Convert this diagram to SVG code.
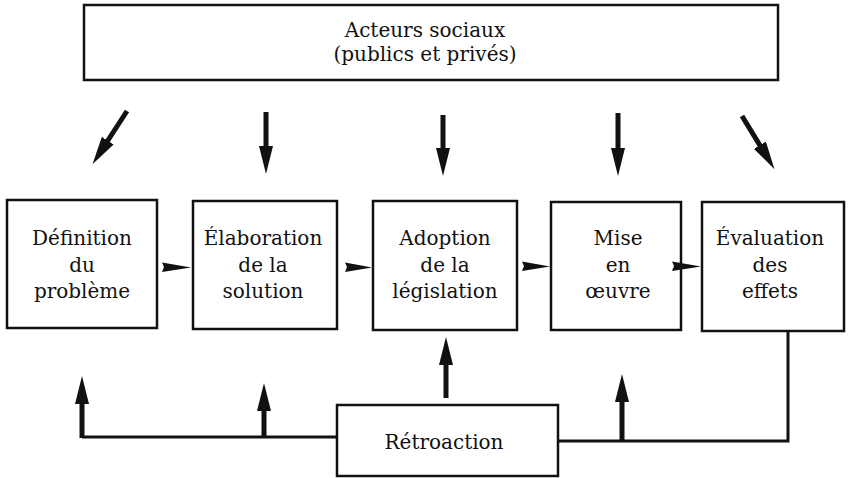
<svg xmlns="http://www.w3.org/2000/svg" width="850" height="478" viewBox="0 0 850 478">
<defs>
<style>
.box{fill:#fff;stroke:#111;stroke-width:2.5}
.t{font-family:"DejaVu Serif","Liberation Serif",serif;font-size:20px;fill:#111;text-anchor:middle}
.shaft{stroke:#111;stroke-width:5;fill:none}
.line{stroke:#111;stroke-width:3;fill:none;stroke-linejoin:miter}
.wedge{fill:#111}
</style>
<marker id="head" markerUnits="userSpaceOnUse" viewBox="0 0 28 14" markerWidth="28" markerHeight="14" refX="1" refY="7" orient="auto">
<path d="M0,0 L28,7 L0,14 z" fill="#111"/>
</marker>
</defs>
<rect width="850" height="478" fill="#fff"/>
<g id="acteurs">
<rect class="box" x="84" y="5" width="694" height="75"/>
<text class="t" x="425" y="37">Acteurs sociaux</text>
<text class="t" x="425" y="61">(publics et privés)</text>
</g>
<g id="definition">
<rect class="box" x="7" y="200" width="150" height="128"/>
<text class="t" x="82" y="245">Définition</text>
<text class="t" x="82" y="272">du</text>
<text class="t" x="82" y="298">problème</text>
</g>
<g id="elaboration">
<rect class="box" x="193" y="201" width="144" height="128"/>
<text class="t" x="263" y="245">Élaboration</text>
<text class="t" x="263" y="272">de la</text>
<text class="t" x="263" y="298">solution</text>
</g>
<g id="adoption">
<rect class="box" x="373" y="201" width="144" height="129"/>
<text class="t" x="445" y="245">Adoption</text>
<text class="t" x="445" y="272">de la</text>
<text class="t" x="445" y="298">législation</text>
</g>
<g id="mise">
<rect class="box" x="551" y="202" width="130" height="128"/>
<text class="t" x="618" y="245">Mise</text>
<text class="t" x="618" y="272">en</text>
<text class="t" x="618" y="298">œuvre</text>
</g>
<g id="evaluation">
<rect class="box" x="702" y="202" width="142" height="129"/>
<text class="t" x="770" y="245">Évaluation</text>
<text class="t" x="770" y="272">des</text>
<text class="t" x="770" y="298">effets</text>
</g>
<g id="retroaction">
<rect class="box" x="337" y="405" width="221" height="71"/>
<text class="t" x="444" y="449">Rétroaction</text>
</g>
<g id="connectors">
<line class="shaft" x1="127" y1="111" x2="107.2" y2="141.5" marker-end="url(#head)"/>
<line class="shaft" x1="266" y1="112" x2="266" y2="147" marker-end="url(#head)"/>
<line class="shaft" x1="443" y1="115" x2="443" y2="149" marker-end="url(#head)"/>
<line class="shaft" x1="618" y1="113" x2="618" y2="149" marker-end="url(#head)"/>
<line class="shaft" x1="742" y1="116" x2="760.4" y2="146.1" marker-end="url(#head)"/>
<polygon class="wedge" points="162,262.5 191,267.5 162,272 164,267"/>
<polygon class="wedge" points="345,262.5 372,267.5 345,272 347,267"/>
<polygon class="wedge" points="522,261.5 550,266.5 522,271 524,266"/>
<polygon class="wedge" points="672,261.5 701,266.5 672,271 674,266"/>
<polyline class="line" points="338,437 82,437"/>
<polyline class="line" points="558,441 788,441 788,331"/>
<line class="shaft" x1="82" y1="438" x2="82" y2="403" marker-end="url(#head)"/>
<line class="shaft" x1="264" y1="438" x2="264" y2="410" marker-end="url(#head)"/>
<line class="shaft" x1="446" y1="398" x2="446" y2="364" marker-end="url(#head)"/>
<line class="shaft" x1="622" y1="441" x2="622" y2="401" marker-end="url(#head)"/>
</g>
</svg>
